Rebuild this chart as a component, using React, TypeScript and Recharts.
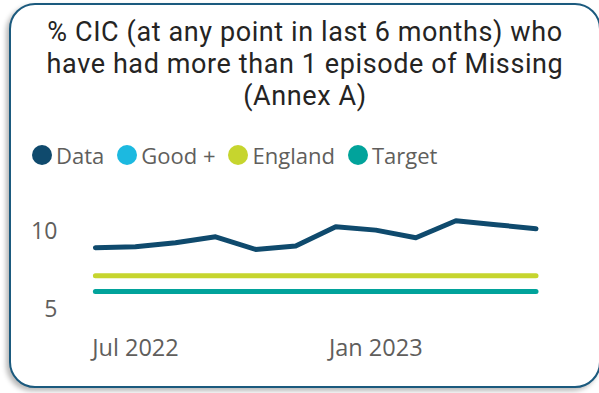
import React from 'react';
import { LineChart, Line, XAxis, YAxis } from 'recharts';

const months = ['Jun 2022', 'Jul 2022', 'Aug 2022', 'Sep 2022', 'Oct 2022', 'Nov 2022', 'Dec 2022', 'Jan 2023', 'Feb 2023', 'Mar 2023', 'Apr 2023', 'May 2023'];
const dataValues = [8.91, 8.97, 9.23, 9.61, 8.8, 9.02, 10.26, 10.04, 9.55, 10.64, 10.39, 10.13];
const goodPlusValues: (number | null)[] = [null, null, null, null, null, null, null, null, null, null, null, null];
const englandValues = [7.1, 7.1, 7.1, 7.1, 7.1, 7.1, 7.1, 7.1, 7.1, 7.1, 7.1, 7.1];
const targetValues = [6.1, 6.1, 6.1, 6.1, 6.1, 6.1, 6.1, 6.1, 6.1, 6.1, 6.1, 6.1];
const xTickLabels = ['Jul 2022', 'Jan 2023'];
const yTicks = [5, 10];
const titleLines = ['% CIC (at any point in last 6 months) who', 'have had more than 1 episode of Missing', '(Annex A)'];

const series = [
  { key: 'data', name: 'Data', color: '#0f4a6d' },
  { key: 'good', name: 'Good +', color: '#1cb9e0' },
  { key: 'england', name: 'England', color: '#c6d52e' },
  { key: 'target', name: 'Target', color: '#01a39b' },
];

const rows = months.map((m, i) => ({
  month: m,
  data: dataValues[i],
  good: goodPlusValues[i],
  england: englandValues[i],
  target: targetValues[i],
}));

const axisFont = "'Open Sans', sans-serif";

export default function App() {
  return (
    <div style={{ position: 'absolute', left: 0, top: 0, width: 599, height: 393, overflow: 'hidden', background: '#fff' }}>
      <div
        style={{
          position: 'absolute',
          left: 9,
          top: 3,
          width: 592,
          height: 385,
          border: '2px solid #1b5a7e',
          borderRadius: 26,
          boxShadow: '-3px 3px 5px rgba(0,0,0,0.28)',
          background: '#fff',
          boxSizing: 'border-box',
        }}
      />
      <div
        style={{
          position: 'absolute',
          left: 9,
          top: 16,
          width: 592,
          textAlign: 'center',
          fontFamily: "Roboto, sans-serif",
          fontSize: 27,
          letterSpacing: 0.6,
          lineHeight: '32px',
          color: '#252423',
        }}
      >
        {titleLines.map((t, i) => (
          <div key={i}>{t}</div>
        ))}
      </div>
      <div
        style={{
          position: 'absolute',
          left: 32,
          top: 142,
          height: 26,
          display: 'flex',
          alignItems: 'center',
          fontFamily: axisFont,
          fontSize: 22,
          color: '#605e5c',
        }}
      >
        {series.map((s) => (
          <div key={s.key} style={{ display: 'flex', alignItems: 'center', marginRight: 13 }}>
            <span style={{ width: 20, height: 20, borderRadius: '50%', background: s.color, display: 'inline-block', marginRight: 4 }} />
            <span>{s.name}</span>
          </div>
        ))}
      </div>
      <div style={{ position: 'absolute', left: 0, top: 0 }}>
        <LineChart width={599} height={393} data={rows} margin={{ top: 207.4, right: 63, bottom: 28.9, left: 0 }}>
          <XAxis
            dataKey="month"
            axisLine={false}
            tickLine={false}
            tickSize={0}
            tickMargin={15}
            height={40}
            interval={0}
            tickFormatter={(v: string) => (xTickLabels.includes(v) ? v : '')}
            tick={{ fill: '#605e5c', fontSize: 23.5, fontFamily: axisFont }}
          />
          <YAxis
            domain={[4, 11.5]}
            ticks={yTicks}
            axisLine={false}
            tickLine={false}
            tickSize={0}
            tickMargin={38}
            width={95.4}
            tick={{ fill: '#605e5c', fontSize: 23, fontFamily: axisFont }}
          />
          {series.map((s) => (
            <Line
              key={s.key}
              dataKey={s.key}
              name={s.name}
              stroke={s.color}
              strokeWidth={5}
              strokeLinecap="round"
              strokeLinejoin="round"
              dot={false}
              activeDot={false}
              type="linear"
              isAnimationActive={false}
            />
          ))}
        </LineChart>
      </div>
    </div>
  );
}
